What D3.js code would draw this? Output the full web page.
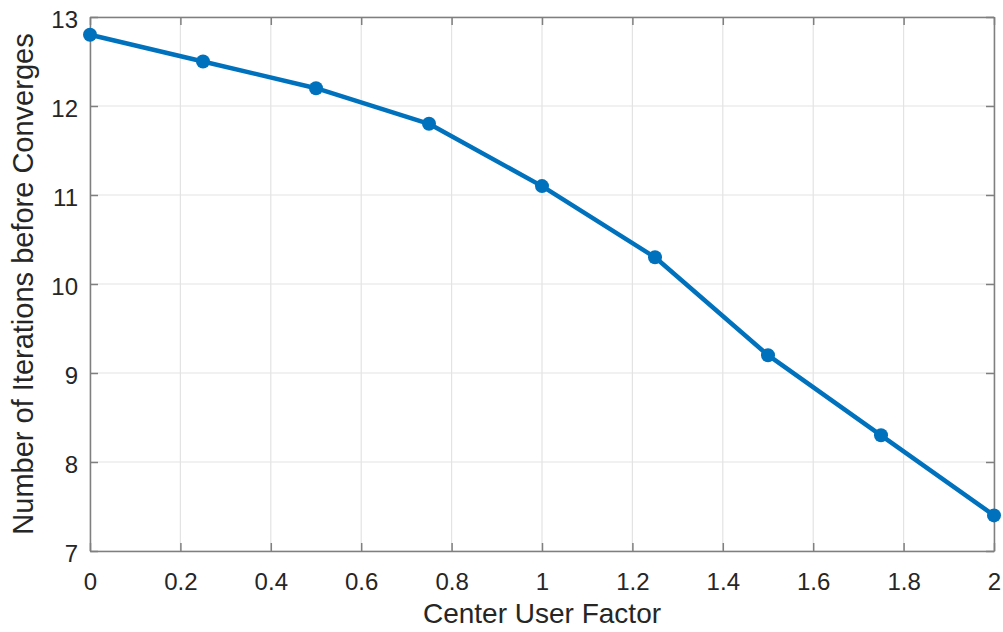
<!DOCTYPE html>
<html>
<head>
<meta charset="utf-8">
<script src="https://cdn.jsdelivr.net/npm/d3@7"></script>
<style>
  html, body { margin: 0; padding: 0; background: #ffffff; }
  svg { display: block; }
  text { font-family: "Liberation Sans", Arial, sans-serif; fill: #262626; }
</style>
</head>
<body>
<svg id="chart" width="1003" height="632"></svg>
<script>
// Center user factor swept from 0 to 2, with iterations needed to converge
const factors = [0, 0.25, 0.5, 0.75, 1, 1.25, 1.5, 1.75, 2];
const iterations = [12.8, 12.5, 12.2, 11.8, 11.1, 10.3, 9.2, 8.3, 7.4];
const xTicks = [0, 0.2, 0.4, 0.6, 0.8, 1, 1.2, 1.4, 1.6, 1.8, 2];
const yTicks = [7, 8, 9, 10, 11, 12, 13];
const xTitle = "Center User Factor";
const yTitle = "Number of Iterations before Converges";

(function draw() {
  const svg = d3.select("#chart");
  const margin = { left: 90, right: 9, top: 17, bottom: 81 };
  const W = 1003, H = 632;
  const x0 = margin.left, x1 = W - margin.right;
  const y0 = H - margin.bottom, y1 = margin.top;

  const x = d3.scaleLinear().domain([0, 2]).range([x0, x1]);
  const y = d3.scaleLinear().domain([7, 13]).range([y0, y1]);

  const gridColor = "#e3e3e3";
  const axisColor = "#7f7f7f";
  const tickLen = 8;

  // grid
  const grid = svg.append("g");
  grid.selectAll("line.vx").data(xTicks).join("line")
    .attr("x1", d => x(d)).attr("x2", d => x(d))
    .attr("y1", y0).attr("y2", y1)
    .attr("stroke", gridColor).attr("stroke-width", 1.2);
  grid.selectAll("line.hy").data(yTicks).join("line")
    .attr("y1", d => y(d)).attr("y2", d => y(d))
    .attr("x1", x0).attr("x2", x1)
    .attr("stroke", gridColor).attr("stroke-width", 1.2);

  // axes with inward ticks on all four sides
  const fmt = d => String(d);
  const axBottom = svg.append("g").attr("transform", `translate(0,${y0})`)
    .call(d3.axisBottom(x).tickValues(xTicks).tickFormat(fmt).tickSizeInner(-tickLen).tickSizeOuter(0).tickPadding(22));
  const axTop = svg.append("g").attr("transform", `translate(0,${y1})`)
    .call(d3.axisTop(x).tickValues(xTicks).tickFormat("").tickSizeInner(-tickLen).tickSizeOuter(0));
  const axLeft = svg.append("g").attr("transform", `translate(${x0},0)`)
    .call(d3.axisLeft(y).tickValues(yTicks).tickFormat(fmt).tickSizeInner(-tickLen).tickSizeOuter(0).tickPadding(12));
  const axRight = svg.append("g").attr("transform", `translate(${x1},0)`)
    .call(d3.axisRight(y).tickValues(yTicks).tickFormat("").tickSizeInner(-tickLen).tickSizeOuter(0));

  [axBottom, axTop, axLeft, axRight].forEach(g => {
    g.select(".domain").attr("stroke", axisColor).attr("stroke-width", 1.5);
    g.selectAll(".tick line").attr("stroke", axisColor).attr("stroke-width", 1.5);
    g.selectAll(".tick text").attr("font-size", 24).attr("fill", "#262626")
      .attr("font-family", "Liberation Sans, Arial, sans-serif");
  });
  axBottom.selectAll(".tick text").attr("dy", "0.71em");
  axLeft.selectAll(".tick text").attr("dy", "0.45em");

  // series
  const line = d3.line().x((d, i) => x(factors[i])).y(d => y(d));
  svg.append("path").datum(iterations)
    .attr("d", line).attr("fill", "none")
    .attr("stroke", "#0072BD").attr("stroke-width", 4.5)
    .attr("stroke-linejoin", "round");
  svg.append("g").selectAll("circle").data(iterations).join("circle")
    .attr("cx", (d, i) => x(factors[i])).attr("cy", d => y(d))
    .attr("r", 7).attr("fill", "#0072BD");

  // titles
  svg.append("text")
    .attr("x", (x0 + x1) / 2).attr("y", 623)
    .attr("text-anchor", "middle").attr("font-size", 28)
    .text(xTitle);
  svg.append("text")
    .attr("transform", `translate(33,${(y0 + y1) / 2}) rotate(-90)`)
    .attr("text-anchor", "middle").attr("font-size", 29)
    .text(yTitle);
})();
</script>
</body>
</html>
